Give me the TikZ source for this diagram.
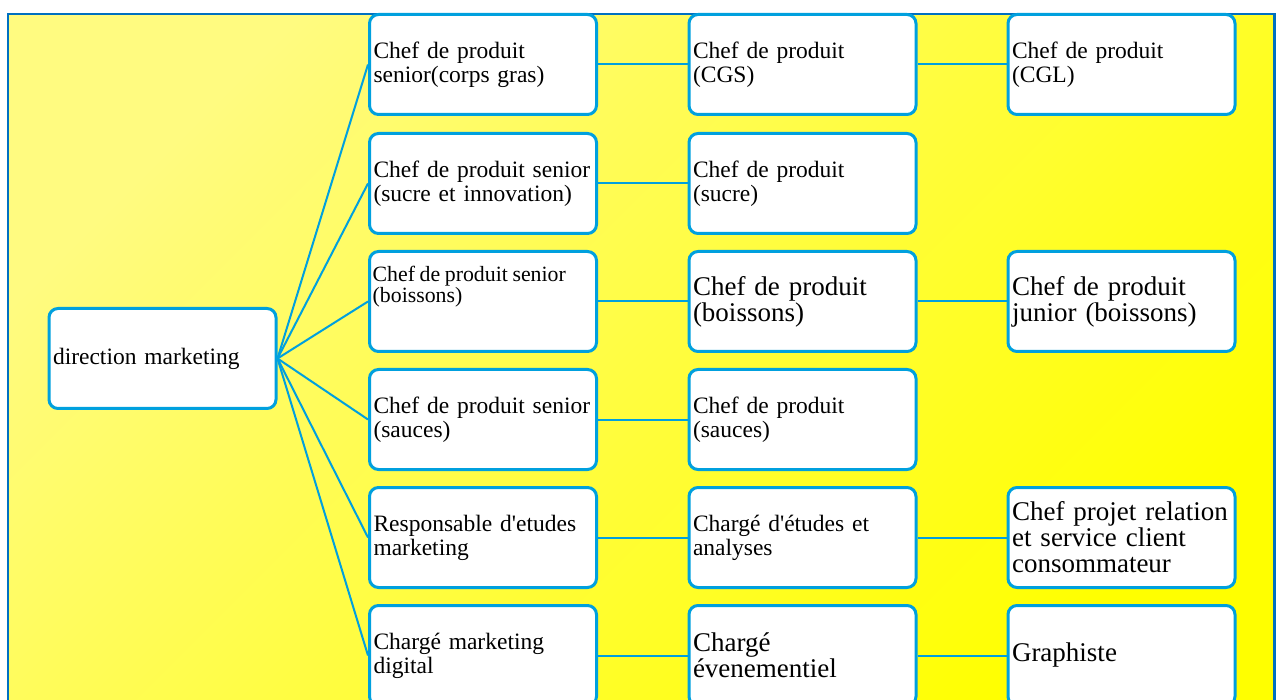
\documentclass[tikz,border=0pt]{standalone}
\usepackage{fontspec}
\setmainfont{Liberation Serif}[Ligatures=TeXOff, WordSpace=0.85]
\hyphenpenalty=10000
\definecolor{boxblue}{RGB}{0,160,222}
\definecolor{frameblue}{RGB}{0,112,192}
\definecolor{lightyel}{RGB}{255,251,128}
\definecolor{deepyel}{RGB}{255,255,0}
\tikzset{
  unitbox/.style={draw=boxblue, line width=3pt, fill=white, rounded corners=9pt,
    minimum height=100pt, text width=219pt, inner xsep=4pt, inner ysep=0pt, align=left,
    font=\fontsize{23.5}{24}\selectfont},
  bigtext/.style={font=\fontsize{27}{26}\selectfont},
  smalltext/.style={font=\fontsize{21.8}{21}\selectfont, align=left, inner sep=0pt},
  link/.style={draw=boxblue, line width=2pt},
}
\begin{document}
\begin{tikzpicture}[x=1pt,y=-1pt]
\useasboundingbox (0,0) rectangle (1277,700);
\clip (0,0) rectangle (1277,700);
\fill[white] (0,0) rectangle (1277,700);
\shade[top color=lightyel, bottom color=deepyel, shading angle=45] (8,14) rectangle (1274,720);
\draw[frameblue, line width=2.5pt] (8.2,14.2) rectangle (1274.5,720);

% column 1
\node[unitbox] (dm) at (162.5,358.5) {direction marketing};

% column 2
\node[unitbox] (a1) at (483,64.5) {Chef de produit\\senior(corps gras)};
\node[unitbox] (a2) at (483,183.5) {Chef de produit senior\\(sucre et innovation)};
\node[unitbox] (a3) at (483,301.5) {};
\node[smalltext, anchor=north west] (a3t) at (372.5,266) {Chef de produit senior\\(boissons)};
\node[unitbox] (a4) at (483,419.5) {Chef de produit senior\\(sauces)};
\node[unitbox] (a5) at (483,537.5) {Responsable d'etudes\\marketing};
\node[unitbox] (a6) at (483,655.5) {Chargé marketing\\digital};

% column 3
\node[unitbox] (b1) at (802.5,64.5) {Chef de produit\\(CGS)};
\node[unitbox] (b2) at (802.5,183.5) {Chef de produit\\(sucre)};
\node[unitbox, bigtext] (b3) at (802.5,301.5) {Chef de produit\\(boissons)};
\node[unitbox] (b4) at (802.5,419.5) {Chef de produit\\(sauces)};
\node[unitbox] (b5) at (802.5,537.5) {Chargé d'études et\\analyses};
\node[unitbox, bigtext] (b6) at (802.5,655.5) {Chargé\\évenementiel};

% column 4
\node[unitbox] (c1) at (1121.5,64.5) {Chef de produit\\(CGL)};
\node[unitbox, bigtext] (c3) at (1121.5,301.5) {Chef de produit\\junior (boissons)};
\node[unitbox, bigtext] (c5) at (1121.5,537.5) {Chef projet relation\\et service client\\consommateur};
\node[unitbox, bigtext] (c6) at (1121.5,655.5) {Graphiste};

% connectors
\foreach \n in {a1,a2,a3,a4,a5,a6} { \draw[link] (dm.east) -- (\n.west); }
\draw[link] (a1.east) -- (b1.west);
\draw[link] (a2.east) -- (b2.west);
\draw[link] (a3.east) -- (b3.west);
\draw[link] (a4.east) -- (b4.west);
\draw[link] (a5.east) -- (b5.west);
\draw[link] (a6.east) -- (b6.west);
\draw[link] (b1.east) -- (c1.west);
\draw[link] (b3.east) -- (c3.west);
\draw[link] (b5.east) -- (c5.west);
\draw[link] (b6.east) -- (c6.west);
\end{tikzpicture}
\end{document}
